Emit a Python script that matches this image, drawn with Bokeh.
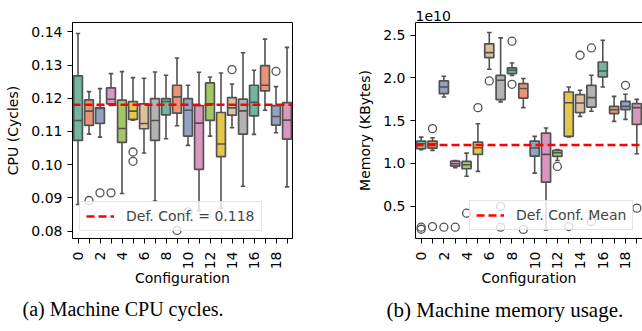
import math
from bokeh.plotting import figure
from bokeh.models import (Range1d, FixedTicker, PrintfTickFormatter, Legend, LegendItem,
                          Title, LinearAxis, ColumnDataSource)
from bokeh.layouts import row
from bokeh.embed import file_html
from bokeh.resources import INLINE

# ---------------- data ----------------
configs = list(range(20))

# CPU cycles (box-plot summaries per configuration)
cpu_lo  = [0.0880, 0.1092, 0.1083, 0.1178, 0.0913, 0.1134, 0.1035, 0.0890, 0.1078, 0.1117,
           0.1058, 0.0862, 0.1086, 0.0869, 0.1111, 0.0935, 0.1091, 0.1164, 0.1096, 0.0933]
cpu_q1  = [0.1073, 0.1118, 0.1124, 0.1183, 0.1067, 0.1136, 0.1108, 0.1073, 0.1150, 0.1155,
           0.1086, 0.0986, 0.1133, 0.1024, 0.1149, 0.1092, 0.1147, 0.1222, 0.1119, 0.1077]
cpu_med = [0.1133, 0.1161, 0.1169, 0.1197, 0.1109, 0.1161, 0.1124, 0.1133, 0.1190, 0.1204,
           0.1164, 0.1125, 0.1183, 0.1062, 0.1171, 0.1162, 0.1188, 0.1239, 0.1145, 0.1134]
cpu_q3  = [0.1267, 0.1195, 0.1172, 0.1231, 0.1194, 0.1190, 0.1183, 0.1199, 0.1199, 0.1239,
           0.1199, 0.1178, 0.1246, 0.1157, 0.1202, 0.1197, 0.1239, 0.1298, 0.1178, 0.1187]
cpu_hi  = [0.1395, 0.1220, 0.1229, 0.1274, 0.1280, 0.1262, 0.1260, 0.1279, 0.1269, 0.1321,
           0.1239, 0.1278, 0.1264, 0.1276, 0.1243, 0.1337, 0.1284, 0.1378, 0.1235, 0.1353]
cpu_out_x = [1, 2, 3, 5, 5, 9, 10, 14, 18]
cpu_out_y = [0.0892, 0.0915, 0.0915, 0.1038, 0.1010, 0.0802, 0.0858, 0.1286, 0.1281]
cpu_def_conf = 0.118
cpu_ticks = [0.08, 0.09, 0.10, 0.11, 0.12, 0.13, 0.14]

# Memory usage (KBytes, in units of 1e10)
mem_scale_label = "1e10"
mem_lo  = [1.161, 1.153, 1.777, 0.950, 0.851, 0.907, 2.102, 1.720, 2.030, 1.653,
           0.887, 0.223, 1.035, 1.310, 1.551, 1.610, 1.895, 1.492, 1.516, 1.114]
mem_q1  = [1.172, 1.180, 1.817, 0.969, 0.938, 1.106, 2.239, 1.747, 2.051, 1.765,
           1.086, 0.781, 1.082, 1.317, 1.594, 1.660, 2.012, 1.583, 1.629, 1.457]
mem_med = [1.231, 1.231, 1.894, 0.997, 0.985, 1.184, 2.297, 1.973, 2.090, 1.876,
           1.180, 1.106, 1.126, 1.711, 1.707, 1.770, 2.082, 1.629, 1.668, 1.653]
mem_q3  = [1.262, 1.262, 1.965, 1.027, 1.024, 1.250, 2.400, 2.031, 2.117, 1.934,
           1.262, 1.355, 1.153, 1.836, 1.805, 1.914, 2.187, 1.668, 1.727, 1.700]
mem_hi  = [1.308, 1.301, 2.020, 1.035, 1.121, 1.465, 2.532, 2.469, 2.176, 1.993,
           1.317, 1.414, 1.164, 1.895, 1.856, 2.031, 2.441, 1.785, 1.809, 1.750]
mem_out_x = [0, 0, 1, 1, 2, 3, 4, 5, 6, 7, 7, 8, 8, 9, 12, 13, 14, 15, 15, 18, 19]
mem_out_y = [0.254, 0.230, 1.407, 0.262, 0.254, 0.254, 0.418, 1.653, 1.965, 0.497, 0.254,
             2.430, 1.926, 0.228, 0.965, 0.262, 2.266, 2.351, 0.321, 1.914, 0.477]
mem_def_conf_mean = 1.215
mem_ticks = [0.5, 1.0, 1.5, 2.0, 2.5]

x_ticks_major = [0, 2, 4, 6, 8, 10, 12, 14, 16, 18]
x_ticks_minor = [1, 3, 5, 7, 9, 11, 13, 15, 17, 19]

# ---------------- styles ----------------
palette = ["#71b6a0", "#e99575", "#95a3c3", "#db96c0", "#a2c764", "#e5c849", "#dbc29e", "#b3b3b3"]
EDGE = "#525252"
FONT = "DejaVu Sans"
FS = "14px"
BOX_W = 0.8
CAP_W = 0.4


def draw_boxes(p, lo, q1, med, q3, hi, out_x, out_y):
    colors = [palette[i % len(palette)] for i in range(len(configs))]
    src = ColumnDataSource(dict(
        x=configs, lo=lo, q1=q1, med=med, q3=q3, hi=hi, color=colors,
        cl=[c - CAP_W / 2 for c in configs], cr=[c + CAP_W / 2 for c in configs],
        bl=[c - BOX_W / 2 for c in configs], br=[c + BOX_W / 2 for c in configs]))
    p.segment(x0="x", y0="q3", x1="x", y1="hi", source=src, line_color=EDGE, line_width=1.6)
    p.segment(x0="x", y0="q1", x1="x", y1="lo", source=src, line_color=EDGE, line_width=1.6)
    p.segment(x0="cl", y0="hi", x1="cr", y1="hi", source=src, line_color=EDGE, line_width=1.6)
    p.segment(x0="cl", y0="lo", x1="cr", y1="lo", source=src, line_color=EDGE, line_width=1.6)
    p.vbar(x="x", width=BOX_W, bottom="q1", top="q3", source=src, fill_color="color",
           line_color=EDGE, line_width=1.7)
    p.segment(x0="bl", y0="med", x1="br", y1="med", source=src, line_color=EDGE, line_width=1.6)
    p.scatter(x=out_x, y=out_y, marker="circle", size=8, fill_color=None,
              line_color=EDGE, line_width=1.3)


def style_axes(p, yticks, yfmt, ylabel):
    p.xgrid.grid_line_color = None
    p.ygrid.grid_line_color = None
    p.xaxis.ticker = FixedTicker(ticks=x_ticks_major, minor_ticks=x_ticks_minor)
    p.xaxis.major_label_orientation = math.pi / 2
    p.xaxis.axis_label = "Configuration"
    p.yaxis.ticker = FixedTicker(ticks=yticks)
    p.yaxis.formatter = PrintfTickFormatter(format=yfmt)
    p.yaxis.axis_label = ylabel
    for ax in (p.xaxis, p.yaxis):
        ax.axis_line_color = "black"
        ax.major_tick_line_color = "black"
        ax.minor_tick_line_color = "black"
        ax.major_tick_in = 0
        ax.major_tick_out = 5
        ax.minor_tick_in = 0
        ax.minor_tick_out = 5
        ax.major_label_text_font = FONT
        ax.major_label_text_font_size = FS
        ax.major_label_text_color = "black"
        ax.axis_label_text_font = FONT
        ax.axis_label_text_font_size = FS
        ax.axis_label_text_font_style = "normal"
        ax.axis_label_text_color = "black"
    p.xaxis.major_label_standoff = 8
    p.xaxis.axis_label_standoff = -2
    p.yaxis.major_label_standoff = 5
    p.yaxis.axis_label_standoff = 7
    p.yaxis.minor_tick_line_color = None


def add_legend(p, renderer, label, loc):
    lg = Legend(items=[LegendItem(label=label, renderers=[renderer])], location=loc,
                border_line_color="#cccccc", border_line_width=1,
                background_fill_color="white", background_fill_alpha=0.8,
                label_text_font=FONT, label_text_font_size=FS,
                glyph_width=28, glyph_height=14, label_standoff=12,
                padding=6, margin=0, spacing=0, label_height=14)
    p.add_layout(lg)


# ---------------- CPU plot ----------------
x_start, x_end = -0.5, 19.5
p1 = figure(width=318, height=331, output_backend="svg", toolbar_location=None, title=None,
            x_range=Range1d(x_start, x_end), y_range=Range1d(0.07776, 0.14280),
            min_border_left=72, min_border_right=26, min_border_top=6, min_border_bottom=93)
p1.outline_line_color = "black"
p1.outline_line_width = 1
p1.outline_line_alpha = 1
style_axes(p1, cpu_ticks, "%.2f", "CPU (Cycles)")
draw_boxes(p1, cpu_lo, cpu_q1, cpu_med, cpu_q3, cpu_hi, cpu_out_x, cpu_out_y)
r1 = p1.line(x=[x_start, x_end], y=[cpu_def_conf, cpu_def_conf], line_color="red",
             line_width=2.5, line_dash="8 4")
add_legend(p1, r1, "Def. Conf. = %.3f" % cpu_def_conf, (7, 7))
p1.add_layout(Title(text="(a) Machine CPU cycles.", align="left", offset=-50,
                    text_font="Liberation Serif", text_font_size="20px",
                    text_font_style="normal", text_color="black", standoff=12), "below")

# ---------------- Memory plot ----------------
p2 = figure(width=324, height=331, output_backend="svg", toolbar_location=None, title=None,
            x_range=Range1d(x_start, x_end), y_range=Range1d(0.122, 2.649),
            min_border_left=97, min_border_right=0, min_border_top=22, min_border_bottom=93)
p2.outline_line_color = None
style_axes(p2, mem_ticks, "%.1f", "Memory (KBytes)")
top_ax = LinearAxis(ticker=FixedTicker(ticks=[]), axis_line_color="black",
                    major_tick_line_color=None, minor_tick_line_color=None,
                    major_label_text_font_size="0px")
p2.add_layout(top_ax, "above")
p2.add_layout(Title(text=mem_scale_label, align="left", offset=0,
                    text_font=FONT, text_font_size=FS, text_font_style="normal",
                    text_color="black", standoff=4), "above")
draw_boxes(p2, mem_lo, mem_q1, mem_med, mem_q3, mem_hi, mem_out_x, mem_out_y)
r2 = p2.line(x=[x_start, x_end], y=[mem_def_conf_mean, mem_def_conf_mean], line_color="red",
             line_width=2.5, line_dash="8 4")
add_legend(p2, r2, "Def. Conf. Mean", (54, 8))
p2.add_layout(Title(text="(b) Machine memory usage.", align="left", offset=-29,
                    text_font="Liberation Serif", text_font_size="21px",
                    text_font_style="normal", text_color="black", standoff=12), "below")

layout = row(p1, p2)
open("out.html", "w").write(file_html(layout, INLINE))
